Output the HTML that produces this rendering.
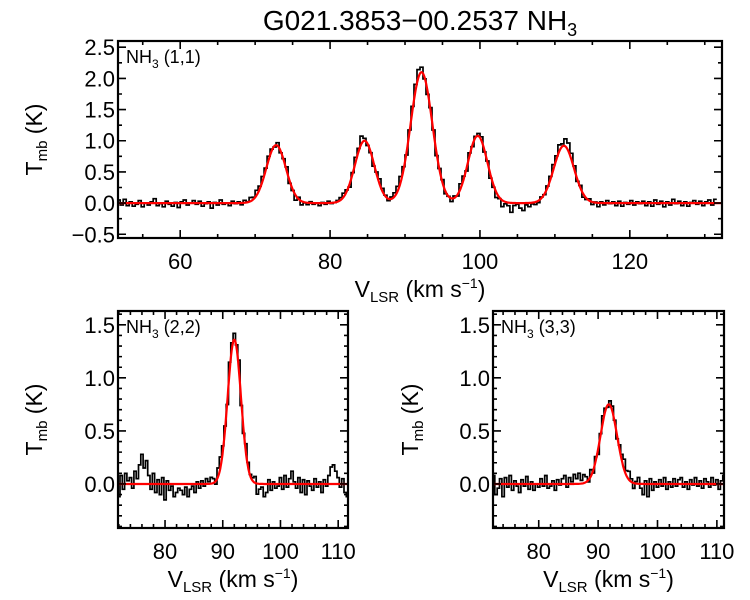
<!DOCTYPE html>
<html><head><meta charset="utf-8"><style>
html,body{margin:0;padding:0;background:#fff}
svg{display:block;font-family:"Liberation Sans",Arial,sans-serif}
</style></head><body>
<svg id="c" width="750" height="600" viewBox="0 0 750 600">
<text x="420" y="30" font-size="28" text-anchor="middle">G021.3853−00.2537 NH<tspan font-size="18" dy="6">3</tspan></text>
</svg>
<script>
// ---- data ----
const topFitCenters=[72.8,84.6,92.2,99.7,111.2];
const topFitAmps=[0.93,1.0,2.1,1.08,0.92];
const topFitSigmas=[1.3,1.3,1.45,1.3,1.35];
const topStart=51.8, topStep=0.4;
const topResid=[5,-3,6,-4,2,-5,-2,4,-6,0,-3,2,7,-4,-1,-6,3,-2,-5,1,-7,2,5,-3,0,
4,-2,3,-5,-1,2,-8,1,-3,5,-2,0,-4,3,-1,2,-3,4,1,6,3,8,5,7,4,
6,3,-2,5,-3,2,6,-4,-2,-8,3,-6,-1,-3,2,-2,0,-4,1,-2,3,-1,0,2,4,
6,3,-5,2,8,5,12,4,-3,-2,-6,3,8,5,2,-3,3,6,8,10,5,-4,3,6,10,
12,8,-3,-6,4,3,-5,2,5,-4,0,-5,3,-2,8,6,-4,5,-3,2,4,6,-3,2,-6,
-4,-8,-2,-10,-3,-5,-15,-4,-2,-8,-12,-3,-6,-2,-4,-3,2,-1,3,5,8,6,10,4,12,
13,10,6,-3,4,-5,-2,3,-4,1,-6,2,-3,4,-1,2,-4,3,-5,1,-2,4,-3,2,-1,
3,-4,2,-5,5,-2,3,-6,2,-3,6,-1,3,-4,2,-5,1,4,-2,3,-4,2,5,-3,6];
const p22Centers=[92.0], p22Amps=[1.36], p22Sigmas=[1.15];
const p22Start=72.0, p22Step=0.4;
const p22Resid=[-12,8,-5,10,3,6,-4,12,5,18,28,15,22,8,-5,10,-8,4,-10,6,-15,3,-6,-2,-12,
-8,-4,-6,-10,-3,-12,-5,-2,-8,2,-4,3,-2,5,2,6,4,-3,8,10,6,3,-4,8,5,
6,3,10,-5,-4,8,5,2,3,6,-10,-5,-3,-12,-8,4,-6,2,-4,-2,6,-5,8,-3,5,
12,2,-4,6,-8,4,-10,3,-2,-6,5,-3,2,-8,4,-2,8,16,18,12,6,-3,5,-8,-12];
const p33Centers=[91.8], p33Amps=[0.75], p33Sigmas=[1.4];
const p33Start=72.4, p33Step=0.4;
const p33Resid=[8,-10,-4,5,-12,6,-3,8,-6,3,-2,-8,4,-2,7,-5,2,-6,0,-3,5,-2,8,-4,-2,
3,-6,4,-1,5,8,-3,6,2,9,5,10,3,8,5,-2,6,-3,4,-5,2,6,3,-2,4,
5,2,-3,4,6,10,5,8,3,-5,2,6,-4,-10,3,-12,5,-6,2,-3,4,-2,6,-5,2,
-3,5,-2,4,6,-3,2,-5,4,-1,6,-2,3,-4,5,2,-3,6,-1,4,-5,3,8,-2,4];
const topXTicks=[60,80,100,120];
const topYTicks=[-0.5,0,0.5,1,1.5,2,2.5];
const botXTicks=[80,90,100,110];
const botYTicks=[0,0.5,1,1.5];

const NS='http://www.w3.org/2000/svg';
const svg=document.getElementById('c');
function mk(tag,attrs,parent){const e=document.createElementNS(NS,tag);for(const k in attrs)e.setAttribute(k,attrs[k]);(parent||svg).appendChild(e);return e;}
function model(v,c,a,s){let y=0;for(let k=0;k<c.length;k++)y+=a[k]*Math.exp(-0.5*((v-c[k])/s[k])**2);return y;}

function panel(o){
  const g=mk('g',{});
  
  
  const X=v=>o.x0+(v-o.xmin)/(o.xmax-o.xmin)*(o.x1-o.x0);
  const Y=v=>o.y1-(v-o.ymin)/(o.ymax-o.ymin)*(o.y1-o.y0);
  const clipId='cl'+o.name;
  const cp=mk('clipPath',{id:clipId},g);mk('rect',{x:o.x0,y:o.y0,width:o.x1-o.x0,height:o.y1-o.y0},cp);
  let d='';
  for(let i=0;i<o.resid.length;i++){
    const v=o.start+o.step*i;
    const val=model(v,o.c,o.a,o.s)+o.resid[i]/100;
    const xa=X(v-o.step/2),xb=X(v+o.step/2),y=Y(val);
    d+=(i?'L':'M')+xa.toFixed(1)+','+y.toFixed(1)+'L'+xb.toFixed(1)+','+y.toFixed(1);
  }
  const hist=mk('path',{d:d,fill:'none',stroke:'#000','stroke-width':1.7,'clip-path':'url(#'+clipId+')'},g);
  
  
  let f='';
  for(let v=o.xmin;v<=o.xmax;v+=0.1){f+=(f?'L':'M')+X(v).toFixed(1)+','+Y(model(v,o.c,o.a,o.s)).toFixed(1);}
  const fit=mk('path',{d:f,fill:'none',stroke:'#f00','stroke-width':2.2,'clip-path':'url(#'+clipId+')'},g);
  
  
  const box=mk('rect',{x:o.x0,y:o.y0,width:o.x1-o.x0,height:o.y1-o.y0,fill:'none',stroke:'#000','stroke-width':2.2},g);
  
  
  let t='';
  for(let v=Math.ceil(o.xmin/o.xminor)*o.xminor;v<=o.xmax;v+=o.xminor){
    const maj=Math.abs(v/o.xmajor-Math.round(v/o.xmajor))<1e-6;const L=maj?8:4;const x=X(v);
    t+=`M${x},${o.y1}v${-L}M${x},${o.y0}v${L}`;
  }
  for(let v=Math.ceil(o.ymin/o.yminor-1e-6)*o.yminor;v<=o.ymax;v+=o.yminor){
    const maj=Math.abs(v/o.ymajor-Math.round(v/o.ymajor))<1e-6;const L=maj?8:4;const y=Y(v);
    t+=`M${o.x0},${y}h${L}M${o.x1},${y}h${-L}`;
  }
  mk('path',{d:t,stroke:'#000','stroke-width':1.6,fill:'none'},g);
  o.xt.forEach(v=>{const e=mk('text',{x:X(v),y:o.y1+31,'font-size':22,'text-anchor':'middle'},g);e.textContent=v;
    });
  o.yt.forEach(v=>{const e=mk('text',{x:o.x0-3,y:Y(v)+8,'font-size':22,'text-anchor':'end'},g);e.textContent=(v<0?'−':'')+Math.abs(v).toFixed(1);
    });
  const lab=mk('text',{x:o.x0+8,y:o.y0+22,'font-size':18},g);
  lab.innerHTML='NH<tspan font-size="12" dy="5">3</tspan><tspan dy="-5"> '+o.label+'</tspan>';
  
  const xl=mk('text',{x:(o.x0+o.x1)/2,y:o.y1+59,'font-size':23,'text-anchor':'middle'},g);
  xl.innerHTML='V<tspan font-size="15" dy="5">LSR</tspan><tspan dy="-5"> (km s</tspan><tspan font-size="14" dy="-9">−1</tspan><tspan dy="9">)</tspan>';
  
  const yc=(o.y0+o.y1)/2, yx=o.ylx;
  const yl=mk('text',{x:yx,y:yc,'font-size':23,'text-anchor':'middle',transform:`rotate(-90 ${yx} ${yc})`},g);
  yl.innerHTML='T<tspan font-size="15" dy="5">mb</tspan><tspan dy="-5"> (K)</tspan>';
  
}
panel({name:'panel-nh3-11',x0:118,x1:722,y0:41,y1:238,xmin:51.7,xmax:132.3,ymin:-0.56,ymax:2.6,
  xmajor:20,xminor:5,ymajor:0.5,yminor:0.25,xt:topXTicks,yt:topYTicks,
  c:topFitCenters,a:topFitAmps,s:topFitSigmas,start:topStart,step:topStep,resid:topResid,label:'(1,1)',ylx:42});
panel({name:'panel-nh3-22',x0:118,x1:348,y0:311,y1:528,xmin:71.85,xmax:111.7,ymin:-0.415,ymax:1.63,
  xmajor:10,xminor:2,ymajor:0.5,yminor:0.1,xt:botXTicks,yt:botYTicks,
  c:p22Centers,a:p22Amps,s:p22Sigmas,start:p22Start,step:p22Step,resid:p22Resid,label:'(2,2)',ylx:42});
panel({name:'panel-nh3-33',x0:493,x1:724,y0:311,y1:528,xmin:72.3,xmax:111.2,ymin:-0.415,ymax:1.63,
  xmajor:10,xminor:2,ymajor:0.5,yminor:0.1,xt:botXTicks,yt:botYTicks,
  c:p33Centers,a:p33Amps,s:p33Sigmas,start:p33Start,step:p33Step,resid:p33Resid,label:'(3,3)',ylx:418});
</script>
</body></html>
